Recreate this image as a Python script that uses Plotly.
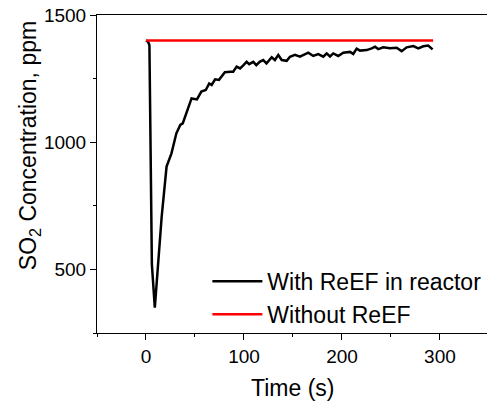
import plotly.graph_objects as go

# With ReEF in reactor (time s, SO2 ppm)
t_with = [0, 2, 3.5, 5, 6, 9, 12.5, 16, 21, 26, 31, 35, 37.5, 41.5, 46.5, 52, 56.5, 61,
          64.5, 67, 70.5, 74.5, 80.5, 86, 89, 92.5, 96, 99.5, 102.7, 105.3, 109.5, 112.6,
          116, 119.6, 123, 128.3, 131.6, 135, 138.5, 143.6, 146.9, 152, 157.1, 165.6,
          170.7, 175.8, 180.9, 184.4, 187.8, 191.1, 196.2, 201.3, 208.2, 211.5, 215,
          218.4, 225.2, 230.3, 233.7, 237, 242.1, 249, 255.8, 260.9, 266, 272.8, 277.9,
          283, 288, 292.5]
c_with = [1400, 1395, 1382, 900, 520, 350, 520, 707, 904, 956, 1035, 1068, 1074, 1120,
          1172, 1168, 1199, 1205, 1231, 1225, 1247, 1245, 1275, 1277, 1277, 1297, 1290,
          1303, 1316, 1307, 1316, 1303, 1316, 1323, 1310, 1334, 1323, 1343, 1323, 1320,
          1336, 1343, 1336, 1352, 1339, 1346, 1336, 1349, 1337, 1349, 1339, 1352, 1355,
          1347, 1368, 1360, 1362, 1369, 1375, 1366, 1373, 1369, 1371, 1358, 1373, 1378,
          1369, 1377, 1380, 1365]

# Without ReEF
t_without = [0, 293]
c_without = [1400, 1400]

FONT = "Arial, Liberation Sans, sans-serif"

fig = go.Figure()
fig.add_trace(go.Scatter(x=t_with, y=c_with, mode="lines", name="With ReEF in reactor",
                         line=dict(color="black", width=2.5)))
fig.add_trace(go.Scatter(x=t_without, y=c_without, mode="lines", name="Without ReEF",
                         line=dict(color="#ff0000", width=2.5)))

fig.update_layout(
    width=487, height=404,
    margin=dict(l=97, r=0, t=15, b=71),
    paper_bgcolor="white", plot_bgcolor="white",
    font=dict(family=FONT, size=19, color="black"),
    showlegend=True,
    legend=dict(x=0.283, y=0.23, xanchor="left", yanchor="top",
                bgcolor="rgba(0,0,0,0)", font=dict(size=23, family=FONT),
                itemwidth=50, tracegroupgap=0),
    xaxis=dict(range=[-50, 348], tick0=0, dtick=100, ticks="outside", ticklen=6,
               tickwidth=1, tickcolor="black", showline=True, linecolor="black",
               linewidth=1, mirror=True, showgrid=False, zeroline=False,
               minor=dict(dtick=50, ticks="outside", ticklen=3, tickcolor="black"),
               tickfont=dict(size=19)),
    yaxis=dict(range=[250, 1500], tick0=0, dtick=500, ticks="outside", ticklen=6,
               tickwidth=1, tickcolor="black", showline=True, linecolor="black",
               linewidth=1, showgrid=False, zeroline=False,
               minor=dict(dtick=250, ticks="outside", ticklen=3, tickcolor="black"),
               tickfont=dict(size=19)),
    annotations=[
        dict(text="SO<sub>2</sub> Concentration, ppm", textangle=-90,
             x=-0.174, y=0.588, xref="paper", yref="paper",
             xanchor="center", yanchor="middle", showarrow=False,
             font=dict(size=23, family=FONT)),
        dict(text="Time (s)", x=0.5, y=-0.173, xref="paper", yref="paper",
             xanchor="center", yanchor="middle", showarrow=False,
             font=dict(size=23, family=FONT)),
    ],
)

fig.write_html("out.html")
